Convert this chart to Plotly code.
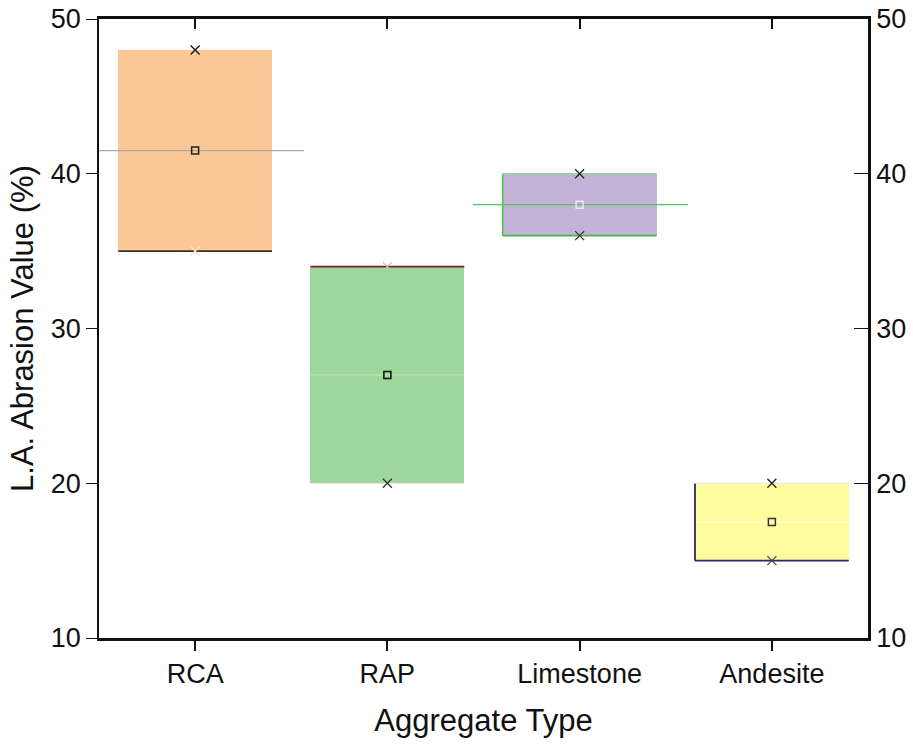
import plotly.graph_objects as go

# L.A. abrasion test results per aggregate type
categories = ["RCA", "RAP", "Limestone", "Andesite"]
max_vals = [48, 34, 40, 20]
min_vals = [35, 20, 36, 15]
mean_vals = [41.5, 27, 38, 17.5]

fill_colors = ["#FDC897", "#9ED79C", "#C2B2D6", "#FFFCA0"]
xpos = list(range(len(categories)))
half = 0.4

fig = go.Figure()

# range boxes (min to max)
for i, c in enumerate(categories):
    fig.add_trace(go.Bar(
        x=[xpos[i]], y=[max_vals[i] - min_vals[i]], base=[min_vals[i]],
        width=2 * half, marker=dict(color=fill_colors[i], line=dict(width=0)),
        showlegend=False, hoverinfo="skip"))

def seg(x0, x1, y0, y1, color, width):
    fig.add_trace(go.Scatter(x=[x0, x1], y=[y0, y1], mode="lines",
                             line=dict(color=color, width=width),
                             showlegend=False, hoverinfo="skip", cliponaxis=True))

# mean lines
seg(xpos[0] - 0.6, xpos[0] + 0.566, mean_vals[0], mean_vals[0], "#A8A8A8", 1.2)
seg(xpos[1] - half, xpos[1] + half, mean_vals[1], mean_vals[1], "#B4E8B0", 1.2)
seg(xpos[2] - 0.555, xpos[2] + 0.564, mean_vals[2], mean_vals[2], "#5CC45C", 1.3)
seg(xpos[3] - half, xpos[3] + half, mean_vals[3], mean_vals[3], "#FFFED0", 1.2)

# box edges
seg(xpos[0] - half, xpos[0] + half, min_vals[0], min_vals[0], "#3A3030", 1.8)
seg(xpos[1] - half, xpos[1] + half, max_vals[1], max_vals[1], "#7A1E1E", 1.8)
seg(xpos[1] - half, xpos[1] + half, min_vals[1], min_vals[1], "#EAD6D6", 1.2)
seg(xpos[2] - half, xpos[2] - half, min_vals[2], max_vals[2], "#5CC45C", 1.8)
seg(xpos[2] - half, xpos[2] + half, max_vals[2], max_vals[2], "#8FD88F", 1.3)
seg(xpos[2] - half, xpos[2] + half, min_vals[2], min_vals[2], "#4CB44C", 1.8)
seg(xpos[3] - half, xpos[3] - half, min_vals[3], max_vals[3], "#2A2A6A", 1.8)
seg(xpos[3] - half, xpos[3] + half, min_vals[3], min_vals[3], "#2A2A6A", 1.8)
seg(xpos[3] - half, xpos[3] + half, max_vals[3], max_vals[3], "#E4E4E4", 1.2)

# max / min markers
max_colors = ["#111111", "#B8C8B8", "#222222", "#222222"]
min_colors = ["#FBE3C8", "#333333", "#333333", "#444444"]
fig.add_trace(go.Scatter(x=xpos, y=max_vals, mode="markers",
                         marker=dict(symbol="x-thin", size=9, color=max_colors,
                                     line=dict(width=1.3, color=max_colors)),
                         showlegend=False, hoverinfo="skip"))
fig.add_trace(go.Scatter(x=xpos, y=min_vals, mode="markers",
                         marker=dict(symbol="x-thin", size=9, color=min_colors,
                                     line=dict(width=1.3, color=min_colors)),
                         showlegend=False, hoverinfo="skip"))
# mean markers
mean_colors = ["#222222", "#111111", "#EDE6F4", "#333333"]
fig.add_trace(go.Scatter(x=xpos, y=mean_vals, mode="markers",
                         marker=dict(symbol="square-open", size=7, color=mean_colors,
                                     line=dict(width=1.5, color=mean_colors)),
                         showlegend=False, hoverinfo="skip"))

font = "Liberation Sans, Arial, sans-serif"

fig.update_layout(
    width=913, height=745,
    margin=dict(l=99, r=45, t=19, b=107),
    plot_bgcolor="white", paper_bgcolor="white",
    font=dict(family=font, color="#111111"),
    bargap=0,
    xaxis=dict(range=[-0.5, 3.5], tickvals=xpos, ticktext=categories, automargin=False,
               showline=True, linecolor="#111111", linewidth=2.5,
               ticks="outside", ticklen=10, tickwidth=1.5, tickcolor="#111111",
               tickfont=dict(size=27, family=font), showgrid=False, zeroline=False,
               title=dict(text="Aggregate Type", font=dict(size=31, family=font), standoff=22)),
    xaxis2=dict(range=[-0.5, 3.5], tickvals=xpos, overlaying="x", side="top", automargin=False,
                showline=True, linecolor="#111111", linewidth=2.5,
                ticks="inside", ticklen=10, tickwidth=1.5, tickcolor="#111111",
                showticklabels=False, showgrid=False, zeroline=False),
    yaxis=dict(range=[10, 50], tickvals=[10, 20, 30, 40, 50], automargin=False,
               showline=True, linecolor="#111111", linewidth=1.5,
               ticks="outside", ticklen=11, tickwidth=1.2, tickcolor="#111111",
               tickfont=dict(size=27, family=font), showgrid=False, zeroline=False,
               title=dict(text="L.A. Abrasion Value (%)", font=dict(size=31, family=font), standoff=8)),
    yaxis2=dict(range=[10, 50], tickvals=[10, 20, 30, 40, 50], overlaying="y", side="right",
                automargin=False,
                showline=True, linecolor="#111111", linewidth=2.5,
                ticks="inside", ticklen=14, tickwidth=1.2, tickcolor="#111111",
                tickfont=dict(size=27, family=font), showgrid=False, zeroline=False),
)

# invisible traces to activate the secondary axes
fig.add_trace(go.Scatter(x=[0], y=[10], xaxis="x2", yaxis="y2", mode="markers",
                         marker=dict(opacity=0), showlegend=False, hoverinfo="skip"))

fig.write_html("out.html")
